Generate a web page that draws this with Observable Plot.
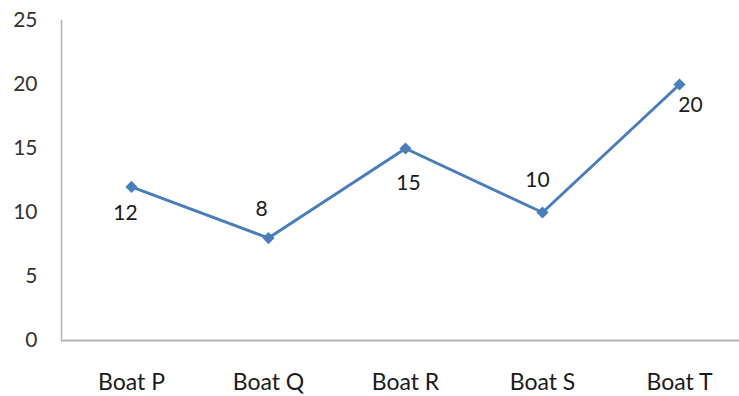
<!DOCTYPE html>
<html><head><meta charset="utf-8">
<script src="https://cdn.jsdelivr.net/npm/d3@7"></script>
<script src="https://cdn.jsdelivr.net/npm/@observablehq/plot@0.6"></script>
<style>body{margin:0;background:#fff}</style></head>
<body><div id="chart"></div>
<script>
const boats = ["Boat P", "Boat Q", "Boat R", "Boat S", "Boat T"];
const values = [12, 8, 15, 10, 20];
const yTicks = [0, 5, 10, 15, 20, 25];

const data = boats.map((b, i) => ({boat: b, value: values[i]}));
// label offsets in Excel-like placement (below / above / right-below)
const offs = [[-6, 26], [-7, -29], [3, 35], [-5, -32], [11, 21]];
const labelMarks = data.map((d, i) =>
  Plot.text([d], {x: "boat", y: "value", text: d => String(d.value),
    dx: offs[i][0], dy: offs[i][1], fill: "#1a1a1a", fontSize: 21})
);

const chart = Plot.plot({
  width: 739, height: 396,
  marginLeft: 61, marginRight: 0, marginTop: 20, marginBottom: 56,
  style: {fontFamily: "Lato, 'Open Sans', sans-serif", fontSize: "18px", background: "#fff"},
  x: {type: "point", domain: boats, range: [130, 679], padding: 0, label: null},
  y: {domain: [0, 25], ticks: yTicks, label: null},
  marks: [
    Plot.axisY({ticks: yTicks, tickSize: 0, tickPadding: 24, fill: "#333", fontSize: 21, label: null}),
    Plot.axisX({tickSize: 0, tickPadding: 33, fill: "#1a1a1a", fontSize: 23, label: null}),
    Plot.frame({anchor: "left", stroke: "#b3b3b3", strokeWidth: 1.5}),
    Plot.ruleY([0], {stroke: "#b3b3b3", strokeWidth: 2}),
    Plot.line(data, {x: "boat", y: "value", stroke: "#4a7ebb", strokeWidth: 3}),
    Plot.dot(data, {x: "boat", y: "value", symbol: "diamond2", r: 5.5, fill: "#4a7ebb", stroke: "none"}),
    ...labelMarks
  ]
});
document.getElementById("chart").appendChild(chart);
</script>
</body></html>
